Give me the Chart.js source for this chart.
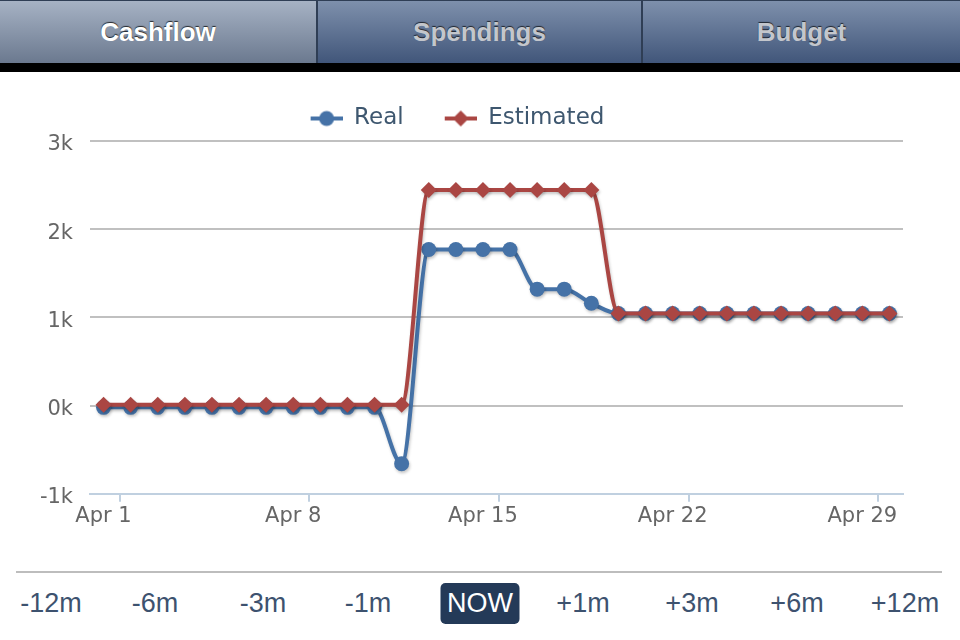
<!DOCTYPE html>
<html>
<head>
<meta charset="utf-8">
<script src="https://cdn.jsdelivr.net/npm/chart.js@4/dist/chart.umd.min.js"></script>
<style>
  html, body { margin:0; padding:0; background:#fff; }
  body { width:960px; height:640px; position:relative; overflow:hidden; }
  #tabs { position:absolute; left:0; top:0; width:960px; height:63px; background:#2f3e55; }
  .tab { position:absolute; top:1px; height:62px; line-height:62px; text-align:center;
         font-family:"Liberation Sans", Arial, sans-serif; font-weight:bold; font-size:26px;
         background:linear-gradient(#7e90ac, #41567a); color:#c3c6cc;
         text-shadow:0 -1px 1px rgba(0,0,0,0.7); }
  .tab.sel { background:linear-gradient(#a6b2c4, #6b798f); color:#fff;
             text-shadow:0 -1px 1px rgba(0,0,0,0.75); }
  #blackbar { position:absolute; left:0; top:63px; width:960px; height:9px; background:#000; }
  #chartwrap { position:absolute; left:0; top:72px; width:960px; height:488px; }
  #navline { position:absolute; left:16px; top:571px; width:926px; height:2px; background:#bdbdbd; }
  .nav { position:absolute; top:583px; height:41px; line-height:41px; transform:translateX(-50%);
         font-family:"Liberation Sans", Arial, sans-serif; font-size:27px; color:#3d526f; white-space:nowrap; }
  .nav.now { background:#243a58; color:#fff; border-radius:5px; width:79px; text-align:center; }
</style>
</head>
<body>
<div id="tabs">
  <div class="tab sel" style="left:0;width:316px">Cashflow</div>
  <div class="tab" style="left:318px;width:323px">Spendings</div>
  <div class="tab" style="left:643px;width:317px">Budget</div>
</div>
<div id="blackbar"></div>
<div id="chartwrap"><canvas id="c" width="960" height="488"></canvas></div>
<div id="navline"></div>
<div id="nav"></div>
<script>
// ---- data ----
const days = [1,2,3,4,5,6,7,8,9,10,11,12,13,14,15,16,17,18,19,20,21,22,23,24,25,26,27,28,29,30];
const realValues = [-20,-20,-20,-20,-20,-20,-20,-20,-20,-20,-20,-660,
                    1770,1770,1770,1770,1320,1320,1160,
                    1045,1045,1045,1045,1045,1045,1045,1045,1045,1045,1045];
const estimatedValues = [10,10,10,10,10,10,10,10,10,10,10,10,
                         2445,2445,2445,2445,2445,2445,2445,
                         1045,1045,1045,1045,1045,1045,1045,1045,1045,1045,1045];
const seriesNames = ['Real', 'Estimated'];
const tickDays = [1, 8, 15, 22, 29];
const tickLabels = ['Apr 1', 'Apr 8', 'Apr 15', 'Apr 22', 'Apr 29'];
const yTicks = [-1000, 0, 1000, 2000, 3000];
const periodButtons = ['-12m', '-6m', '-3m', '-1m', 'NOW', '+1m', '+3m', '+6m', '+12m'];

// ---- bottom period buttons ----
const navCenters = [51, 155, 263, 368, 480, 583, 692, 797, 905];
const nav = document.getElementById('nav');
periodButtons.forEach((t, i) => {
  const d = document.createElement('div');
  d.className = 'nav' + (t === 'NOW' ? ' now' : '');
  d.style.left = navCenters[i] + 'px';
  d.textContent = t;
  nav.appendChild(d);
});

// ---- chart ----
const BLUE = '#4572A7', RED = '#AA4643';
const FONT = 'DejaVu Sans';

function legendIcon(color, shape) {
  const cv = document.createElement('canvas');
  cv.width = 44; cv.height = 18;
  const g = cv.getContext('2d');
  g.strokeStyle = color; g.lineWidth = 4;
  g.beginPath(); g.moveTo(12, 9); g.lineTo(44, 9); g.stroke();
  g.fillStyle = color; g.beginPath();
  if (shape === 'circle') { g.arc(28, 9, 7.5, 0, Math.PI * 2); }
  else { g.moveTo(28, 1); g.lineTo(36, 9); g.lineTo(28, 17); g.lineTo(20, 9); g.closePath(); }
  g.fill();
  return cv;
}
const legendIcons = [legendIcon(BLUE, 'circle'), legendIcon(RED, 'diamond')];

const shadowPlugin = {
  id: 'lineShadow',
  beforeDatasetDraw(chart) {
    const c = chart.ctx; c.save();
    c.shadowColor = 'rgba(0,0,0,0.22)'; c.shadowBlur = 3; c.shadowOffsetX = 1; c.shadowOffsetY = 2;
  },
  afterDatasetDraw(chart) { chart.ctx.restore(); }
};

new Chart(document.getElementById('c'), {
  type: 'line',
  data: {
    datasets: [
      { label: seriesNames[0], data: days.map((d, i) => ({x: d, y: realValues[i]})),
        borderColor: BLUE, backgroundColor: BLUE, borderWidth: 4,
        pointStyle: 'circle', pointRadius: 7.5, pointBorderWidth: 0, pointBackgroundColor: BLUE,
        cubicInterpolationMode: 'monotone', order: 2, xAxisID: 'x', yAxisID: 'y' },
      { label: seriesNames[1], data: days.map((d, i) => ({x: d, y: estimatedValues[i]})),
        borderColor: RED, backgroundColor: RED, borderWidth: 4,
        pointStyle: 'rectRot', pointRadius: 8, pointBorderWidth: 0, pointBackgroundColor: RED,
        cubicInterpolationMode: 'monotone', order: 1, xAxisID: 'x', yAxisID: 'y' }
    ]
  },
  options: {
    responsive: false,
    animation: false,
    events: [],
    layout: { padding: { top: 6, right: 57, bottom: 29, left: 0 } },
    plugins: {
      tooltip: { enabled: false },
      legend: {
        position: 'top', align: 'center',
        labels: {
          usePointStyle: true, pointStyleWidth: 44, padding: 29,
          color: '#3E576F', font: { family: FONT, size: 23 },
          generateLabels: (chart) => chart.data.datasets.map((ds, i) => ({
            text: ds.label, pointStyle: legendIcons[i], fillStyle: ds.borderColor,
            strokeStyle: ds.borderColor, lineWidth: 0, hidden: false, datasetIndex: i, fontColor: '#3E576F'
          }))
        }
      }
    },
    scales: {
      spacer: {
        type: 'linear', position: 'top', weight: 0, display: true,
        afterBuildTicks: (s) => { s.ticks = []; },
        ticks: { display: false },
        grid: { drawOnChartArea: false, drawTicks: true, tickLength: 1, color: 'rgba(0,0,0,0)' },
        border: { display: false }
      },
      x: {
        type: 'linear', position: 'bottom', weight: 1, min: 0.5, max: 30.5,
        afterBuildTicks: (s) => { s.ticks = tickDays.map(v => ({ value: v })); },
        ticks: { autoSkip: false, maxRotation: 0, color: '#666', font: { family: FONT, size: 21 }, padding: 2,
                 callback: (v, i) => tickLabels[i] },
        grid: { display: false, drawTicks: false },
        border: { display: false }
      },
      x2: {
        type: 'linear', position: 'bottom', weight: 0, min: 0.5, max: 30.5,
        afterBuildTicks: (s) => { s.ticks = tickDays.map(v => ({ value: v + 0.59 })); },
        ticks: { display: false },
        grid: { drawOnChartArea: false, drawTicks: true, tickLength: 8, color: '#C0D0E0', lineWidth: 2 },
        border: { display: true, color: '#C0D0E0', width: 2 }
      },
      y: {
        type: 'linear', position: 'left', min: yTicks[0], max: yTicks[yTicks.length - 1],
        afterBuildTicks: (s) => { s.ticks = yTicks.map(v => ({ value: v })); },
        afterFit: (s) => { s.width = 90; },
        ticks: { color: '#666', font: { family: FONT, size: 21 }, padding: 17, labelOffset: 4,
                 callback: (v) => (v / 1000) + 'k' },
        grid: { color: (c) => c.tick && c.tick.value === yTicks[0] ? 'rgba(0,0,0,0)' : '#C0C0C0',
                lineWidth: 2, drawTicks: false },
        border: { display: false }
      }
    }
  },
  plugins: [shadowPlugin]
});
</script>
</body>
</html>
